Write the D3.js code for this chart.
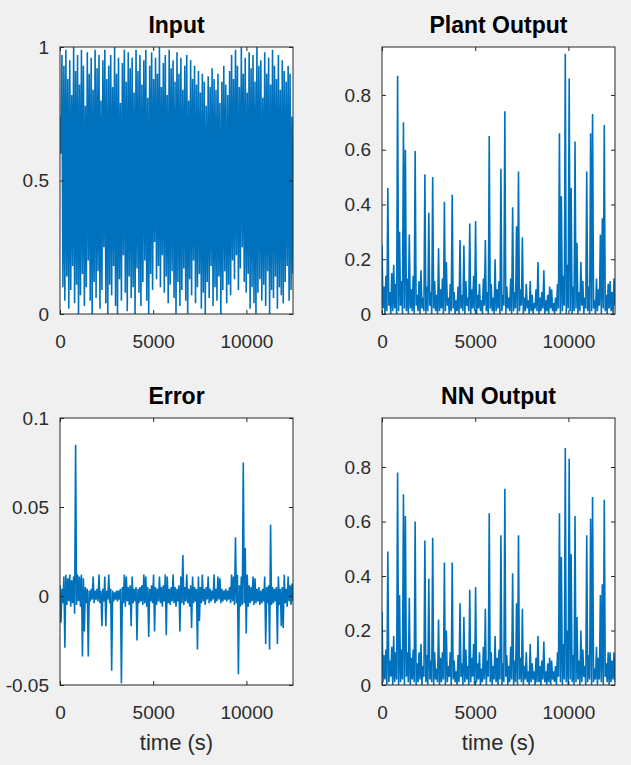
<!DOCTYPE html>
<html>
<head>
<meta charset="utf-8">
<script src="https://cdn.jsdelivr.net/npm/d3@7"></script>
<style>
  body { margin: 0; background: #f0f0f0; }
  svg text { font-family: Arial, "Liberation Sans", Helvetica, sans-serif; }
</style>
</head>
<body>
<svg width="631" height="765"></svg>
<script>
// time axis (s)
var tMax = 12500;
var xTicks = [0, 5000, 10000];

// each series is stored as alternating peaks / troughs
var inputHigh = [0.74,0.97,0.93,0.99,0.88,0.95,0.82,1.0,0.91,0.97,0.86,0.99,0.93,0.78,0.98,0.9,0.96,0.84,0.99,0.92,
  0.97,0.8,0.95,0.99,0.88,0.93,0.97,0.85,1.0,0.9,0.96,0.79,0.94,0.99,0.87,0.98,0.92,0.96,0.83,0.99,
  0.91,0.97,0.86,0.95,0.99,0.81,0.93,0.98,0.88,0.96,0.9,1.0,0.85,0.94,0.97,0.82,0.99,0.92,0.95,0.87,
  0.98,0.9,0.96,0.84,0.93,0.97,0.8,0.95,0.88,0.93,0.86,0.91,0.83,0.9,0.87,0.78,0.89,0.85,0.92,0.88,
  0.84,0.9,0.79,0.87,0.93,0.86,0.82,0.91,0.97,0.88,0.99,0.93,0.85,1.0,0.9,0.96,0.83,0.98,0.92,0.97,
  0.87,1.0,0.93,0.95,0.81,0.98,0.9,0.96,0.86,0.99,0.93,0.88,0.97,0.84,0.95,0.91,0.87,0.93,0.9,0.74];
var inputLow = [0.6,0.1,0.05,0.14,0.02,0.09,0.18,0.04,0.11,0.0,0.07,0.15,0.03,0.1,0.2,0.05,0.0,0.12,0.06,0.16,
  0.02,0.09,0.25,0.04,0.0,0.11,0.07,0.18,0.03,0.0,0.13,0.05,0.22,0.08,0.01,0.14,0.06,0.1,0.0,0.17,
  0.08,0.03,0.12,0.2,0.05,0.0,0.15,0.09,0.27,0.13,0.18,0.1,0.22,0.08,0.14,0.04,0.11,0.16,0.06,0.0,
  0.12,0.03,0.09,0.17,0.05,0.0,0.13,0.07,0.2,0.04,0.1,0.15,0.02,0.08,0.0,0.12,0.06,0.18,0.03,0.1,
  0.05,0.14,0.0,0.09,0.16,0.04,0.11,0.07,0.2,0.13,0.22,0.09,0.17,0.25,0.12,0.08,0.15,0.02,0.1,0.04,
  0.0,0.08,0.13,0.05,0.11,0.03,0.16,0.0,0.09,0.06,0.14,0.02,0.1,0.07,0.04,0.12,0.18,0.05,0.09,0.15];

var plantHigh = [0.25,0.10,0.14,0.46,0.08,0.15,0.18,0.11,0.87,0.30,
  0.12,0.70,0.60,0.13,0.29,0.09,0.14,0.595,0.07,0.12,
  0.16,0.06,0.51,0.10,0.37,0.08,0.50,0.12,0.07,0.24,
  0.09,0.13,0.41,0.19,0.06,0.11,0.435,0.08,0.05,0.10,
  0.27,0.07,0.25,0.12,0.06,0.33,0.09,0.14,0.34,0.07,
  0.11,0.05,0.13,0.27,0.08,0.65,0.11,0.06,0.20,0.09,
  0.12,0.53,0.07,0.74,0.10,0.06,0.13,0.39,0.08,0.32,
  0.52,0.09,0.28,0.06,0.11,0.05,0.12,0.07,0.04,0.09,
  0.19,0.06,0.08,0.16,0.05,0.07,0.10,0.09,0.04,0.06,
  0.11,0.66,0.43,0.14,0.95,0.18,0.86,0.46,0.10,0.63,
  0.26,0.08,0.19,0.12,0.06,0.52,0.10,0.66,0.73,0.05,
  0.13,0.09,0.29,0.35,0.69,0.07,0.11,0.12,0.08,0.13];
var plantLow = [0.02,0.00,0.01,0.03,0.00,0.01,0.02,0.00,0.01,0.03,
  0.00,0.02,0.01,0.00,0.02,0.01,0.00,0.03,0.01,0.00,
  0.02,0.01,0.00,0.01,0.03,0.00,0.02,0.01,0.00,0.01,
  0.02,0.00,0.01,0.03,0.00,0.01,0.02,0.00,0.01,0.00,
  0.02,0.01,0.00,0.03,0.01,0.00,0.02,0.01,0.00,0.02,
  0.01,0.00,0.03,0.01,0.00,0.02,0.01,0.00,0.01,0.02,
  0.00,0.01,0.03,0.00,0.02,0.01,0.00,0.01,0.02,0.00,
  0.01,0.03,0.00,0.01,0.02,0.00,0.01,0.00,0.02,0.01,
  0.00,0.01,0.02,0.00,0.01,0.00,0.02,0.01,0.00,0.01,
  0.02,0.00,0.01,0.03,0.00,0.02,0.01,0.00,0.01,0.02,
  0.00,0.01,0.03,0.00,0.02,0.01,0.00,0.01,0.02,0.00,
  0.01,0.03,0.00,0.02,0.01,0.00,0.02,0.01,0.00,0.03];

var errorHigh = [0.006,0.004,0.011,0.012,0.010,0.012,0.009,0.011,0.085,0.012,
  0.011,0.012,0.010,0.005,0.004,0.003,0.004,0.011,0.003,0.004,
  0.012,0.003,0.004,0.011,0.003,0.012,0.004,0.003,0.002,0.003,
  0.003,0.004,0.005,0.012,0.011,0.005,0.006,0.011,0.004,0.005,
  0.004,0.005,0.006,0.012,0.011,0.005,0.004,0.006,0.012,0.005,
  0.004,0.011,0.005,0.006,0.012,0.011,0.004,0.005,0.012,0.005,
  0.004,0.006,0.011,0.023,0.005,0.012,0.004,0.006,0.011,0.005,
  0.004,0.011,0.005,0.012,0.004,0.005,0.011,0.004,0.003,0.012,
  0.004,0.011,0.010,0.004,0.003,0.004,0.003,0.005,0.012,0.011,
  0.033,0.012,0.006,0.011,0.075,0.027,0.012,0.006,0.005,0.011,
  0.010,0.004,0.005,0.003,0.004,0.011,0.005,0.006,0.040,0.005,
  0.004,0.005,0.011,0.004,0.005,0.012,0.004,0.011,0.006,0.007];
var errorLow = [-0.015,-0.004,-0.029,-0.005,-0.003,-0.006,-0.004,-0.010,-0.005,-0.003,
  -0.006,-0.034,-0.020,-0.004,-0.034,-0.003,-0.002,-0.004,-0.002,-0.003,
  -0.004,-0.017,-0.003,-0.017,-0.002,-0.004,-0.042,-0.003,-0.002,-0.003,
  -0.002,-0.049,-0.004,-0.006,-0.003,-0.005,-0.017,-0.004,-0.003,-0.025,
  -0.004,-0.003,-0.005,-0.004,-0.006,-0.023,-0.003,-0.004,-0.020,-0.005,
  -0.003,-0.004,-0.006,-0.003,-0.022,-0.004,-0.005,-0.003,-0.004,-0.006,
  -0.003,-0.020,-0.004,-0.005,-0.003,-0.004,-0.006,-0.018,-0.004,-0.003,
  -0.030,-0.014,-0.004,-0.003,-0.005,-0.002,-0.004,-0.003,-0.002,-0.004,
  -0.003,-0.002,-0.004,-0.003,-0.002,-0.003,-0.002,-0.004,-0.003,-0.005,
  -0.004,-0.044,-0.006,-0.005,-0.004,-0.021,-0.006,-0.004,-0.003,-0.005,
  -0.004,-0.003,-0.005,-0.004,-0.003,-0.027,-0.004,-0.030,-0.005,-0.004,
  -0.003,-0.027,-0.005,-0.017,-0.018,-0.004,-0.006,-0.003,-0.005,-0.003];

var nnHigh = [0.27,0.11,0.13,0.49,0.09,0.14,0.18,0.12,0.78,0.33,
  0.13,0.70,0.62,0.12,0.32,0.10,0.13,0.60,0.08,0.12,
  0.15,0.07,0.53,0.11,0.39,0.09,0.54,0.12,0.06,0.24,
  0.10,0.12,0.45,0.20,0.07,0.12,0.45,0.09,0.05,0.11,
  0.30,0.08,0.25,0.13,0.07,0.35,0.10,0.15,0.36,0.08,
  0.12,0.06,0.14,0.28,0.09,0.63,0.12,0.07,0.18,0.10,
  0.13,0.55,0.08,0.72,0.11,0.07,0.14,0.41,0.09,0.30,
  0.55,0.10,0.28,0.07,0.12,0.05,0.15,0.08,0.05,0.10,
  0.18,0.07,0.09,0.16,0.05,0.08,0.10,0.09,0.05,0.07,
  0.12,0.63,0.47,0.15,0.87,0.20,0.83,0.48,0.11,0.62,
  0.25,0.09,0.20,0.13,0.07,0.55,0.11,0.61,0.69,0.06,
  0.14,0.10,0.33,0.37,0.68,0.08,0.12,0.12,0.09,0.12];
var nnLow = [0.01,0.02,0.00,0.01,0.03,0.00,0.01,0.02,0.00,0.01,
  0.02,0.00,0.03,0.01,0.00,0.02,0.01,0.00,0.01,0.02,
  0.00,0.03,0.01,0.00,0.02,0.01,0.00,0.02,0.01,0.00,
  0.01,0.02,0.00,0.01,0.03,0.00,0.02,0.01,0.00,0.01,
  0.03,0.00,0.01,0.02,0.00,0.01,0.03,0.00,0.01,0.02,
  0.00,0.01,0.02,0.00,0.03,0.01,0.00,0.02,0.01,0.00,
  0.02,0.00,0.01,0.03,0.00,0.01,0.02,0.00,0.01,0.00,
  0.02,0.01,0.00,0.02,0.01,0.00,0.01,0.02,0.00,0.01,
  0.01,0.00,0.02,0.01,0.00,0.01,0.00,0.02,0.01,0.00,
  0.03,0.01,0.00,0.02,0.01,0.00,0.02,0.01,0.00,0.01,
  0.02,0.00,0.01,0.03,0.00,0.01,0.02,0.00,0.01,0.02,
  0.00,0.02,0.01,0.00,0.03,0.01,0.00,0.01,0.02,0.01];

function main() {
    var svg = d3.select("svg"),
        w = 233,
        h = 267;

    var panels = [
        {title: "Input", high: inputHigh, low: inputLow, yDomain: [0, 1], yTicks: [0, 0.5, 1], left: 60, top: 47, xlabel: false},
        {title: "Plant Output", high: plantHigh, low: plantLow, yDomain: [0, 0.975], yTicks: [0, 0.2, 0.4, 0.6, 0.8], left: 382, top: 47, xlabel: false},
        {title: "Error", high: errorHigh, low: errorLow, yDomain: [-0.05, 0.1], yTicks: [-0.05, 0, 0.05, 0.1], left: 60, top: 418, xlabel: true},
        {title: "NN Output", high: nnHigh, low: nnLow, yDomain: [0, 0.98], yTicks: [0, 0.2, 0.4, 0.6, 0.8], left: 382, top: 418, xlabel: true}
    ];

    panels.forEach(function(p, k) {
        var g = svg.append("g")
                   .attr("transform", "translate(" + p.left + "," + p.top + ")");

        var x = d3.scaleLinear().domain([0, tMax]).range([0, w]);
        var y = d3.scaleLinear().domain(p.yDomain).range([h, 0]);

        // peaks and troughs alternate in time
        var values = [];
        p.high.forEach(function(v, i) {
            values.push(v);
            values.push(p.low[i]);
        });
        var n = values.length;

        g.append("rect")
         .attr("width", w).attr("height", h)
         .attr("fill", "#fff");

        g.append("clipPath").attr("id", "clip" + k)
         .append("rect").attr("width", w).attr("height", h);

        var line = d3.line()
                     .x(function(d, i) { return x(i * tMax / (n - 1)); })
                     .y(function(d) { return y(d); });

        g.append("path")
         .datum(values)
         .attr("clip-path", "url(#clip" + k + ")")
         .attr("d", line)
         .attr("fill", "none")
         .attr("stroke", "#0072bd")
         .attr("stroke-width", 1.6)
         .attr("stroke-linejoin", "bevel");

        var fmt = function(d) { return String(d); };

        var xb = g.append("g").attr("transform", "translate(0," + h + ")")
                  .call(d3.axisBottom(x).tickValues(xTicks).tickFormat(fmt).tickSize(-4).tickPadding(21));
        var yl = g.append("g")
                  .call(d3.axisLeft(y).tickValues(p.yTicks).tickFormat(fmt).tickSize(-4).tickPadding(11));
        var xt = g.append("g")
                  .call(d3.axisTop(x).tickValues(xTicks).tickFormat("").tickSize(-4));
        var yr = g.append("g").attr("transform", "translate(" + w + ",0)")
                  .call(d3.axisRight(y).tickValues(p.yTicks).tickFormat("").tickSize(-4));

        [xb, yl, xt, yr].forEach(function(a) {
            a.select(".domain").remove();
            a.selectAll("line").attr("stroke", "#262626");
            a.selectAll("text").attr("fill", "#2b2b2b").style("font-size", "19px");
        });

        g.append("rect")
         .attr("width", w).attr("height", h)
         .attr("fill", "none")
         .attr("stroke", "#262626")
         .attr("stroke-width", 1);

        g.append("text")
         .attr("x", w / 2).attr("y", -14)
         .attr("text-anchor", "middle")
         .style("font-size", "23px").style("font-weight", "bold")
         .attr("fill", "#000")
         .text(p.title);

        if (p.xlabel) {
            g.append("text")
             .attr("x", w / 2).attr("y", h + 65)
             .attr("text-anchor", "middle")
             .style("font-size", "22px")
             .attr("fill", "#2b2b2b")
             .text("time (s)");
        }
    });
}

main();
</script>
</body>
</html>
